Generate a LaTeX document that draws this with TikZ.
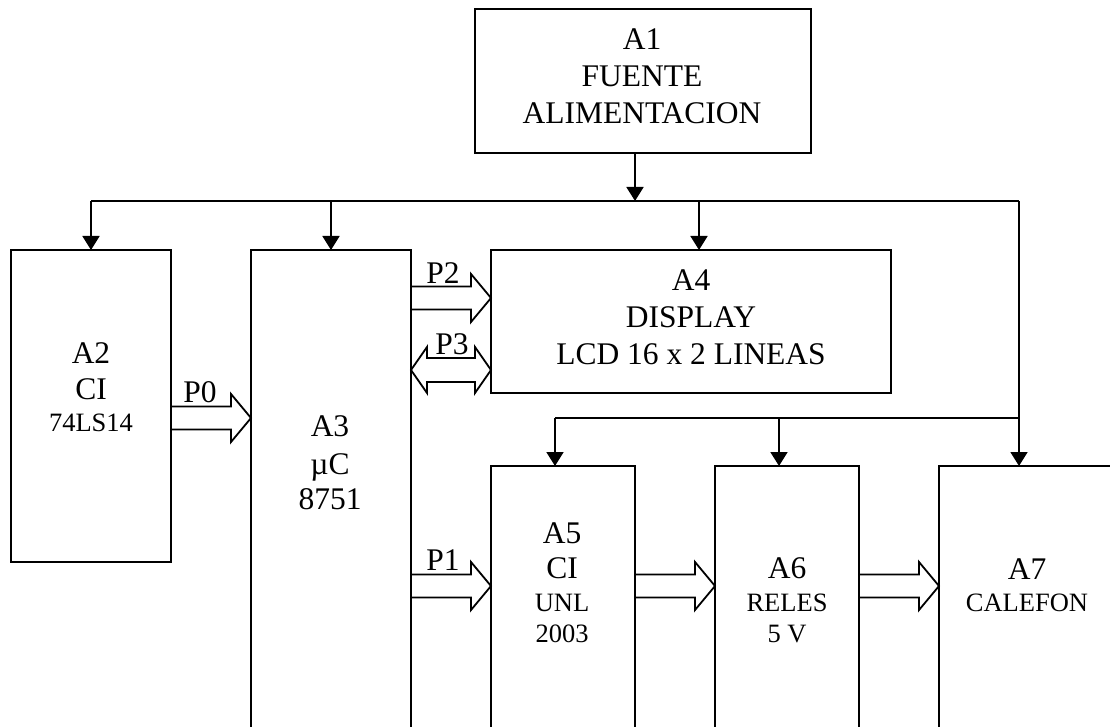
\documentclass[tikz,border=0pt]{standalone}
\usepackage{fontspec}
\setmainfont{Liberation Serif}
\usetikzlibrary{arrows.meta,calc}
\newcommand\fatR[2]{%
  \draw[fat] let \p1=(#1), \p2=(#2) in
    (\x1,\y1+11.5pt) -- (\x2-20pt,\y1+11.5pt) -- (\x2-20pt,\y1+24pt) -- (\x2,\y1)
    -- (\x2-20pt,\y1-24pt) -- (\x2-20pt,\y1-11.5pt) -- (\x1,\y1-11.5pt);}
\newcommand\fatLR[2]{%
  \draw[fat] let \p1=(#1), \p2=(#2) in
    (\x1,\y1) -- (\x1+16pt,\y1-23pt) -- (\x1+16pt,\y1-12pt) -- (\x2-16pt,\y1-12pt)
    -- (\x2-16pt,\y1-23pt) -- (\x2,\y1) -- (\x2-16pt,\y1+23pt) -- (\x2-16pt,\y1+12pt)
    -- (\x1+16pt,\y1+12pt) -- (\x1+16pt,\y1+23pt) -- cycle;}
\begin{document}
\begin{tikzpicture}[x=1pt,y=-1pt,
  box/.style={draw, line width=1.8pt, rectangle, inner sep=0pt, outer sep=0pt, anchor=north west},
  bus/.style={line width=1.8pt},
  arr/.style={bus, -{Triangle[length=14pt,width=17pt]}},
  fat/.style={line width=1.8pt, line join=miter},
  lbl/.style={anchor=base, inner sep=0pt, font=\fontsize{31.5}{37}\selectfont},
  sml/.style={anchor=base, inner sep=0pt, font=\fontsize{26.5}{31}\selectfont}]
\useasboundingbox (0,0) rectangle (1110,727);
% boxes
\node[box, minimum width=336pt, minimum height=144pt] (a1) at (475,9) {};
\node[box, minimum width=160pt, minimum height=312pt] (a2) at (11,250) {};
\node[box, minimum width=160pt, minimum height=520pt] (a3) at (251,250) {};
\node[box, minimum width=400pt, minimum height=143pt] (a4) at (491,250) {};
\node[box, minimum width=144pt, minimum height=300pt] (a5) at (491,466) {};
\node[box, minimum width=144pt, minimum height=300pt] (a6) at (715,466) {};
\node[box, minimum width=200pt, minimum height=300pt] (a7) at (939,466) {};
% power buses
\coordinate (bl) at (91,201);
\coordinate (br) at (1019,201);
\coordinate (j1) at (635,201);
\coordinate (j4) at (699,201);
\coordinate (cl) at (555,418);
\coordinate (c6) at (779,418);
\draw[bus] (bl) -- (br);
\draw[arr] (a1.south -| j1) -- (j1);
\draw[arr] (bl) -- (a2.north);
\draw[arr] (a3.north |- bl) -- (a3.north);
\draw[arr] (j4) -- (j4 |- a4.north);
\draw[arr] (br) -- (br |- a7.north);
\draw[bus] (cl) -- (br |- cl);
\draw[arr] (cl) -- (cl |- a5.north);
\draw[arr] (c6) -- (c6 |- a6.north);
% fat arrows
\fatR{a2.east |- 0,418}{a3.west |- 0,418}
\fatR{a3.east |- 0,298}{a4.west |- 0,298}
\fatLR{a3.east |- 0,370}{a4.west |- 0,370}
\fatR{a3.east |- 0,586}{a5.west |- 0,586}
\fatR{a5.east |- 0,586}{a6.west |- 0,586}
\fatR{a6.east |- 0,586}{a7.west |- 0,586}
% port labels
\node[lbl] (p0) at (200,402) {P0};
\node[lbl] (p2) at (443,283) {P2};
\node[lbl] (p3) at (452,354) {P3};
\node[lbl] (p1) at (443,570) {P1};
% texts
\node[lbl] (t1a) at (642,50) {A1};
\node[lbl] (t1b) at (642,87) {FUENTE};
\node[lbl] (t1c) at (642,124) {ALIMENTACION};
\node[lbl] (t2a) at (91,363) {A2};
\node[lbl] (t2b) at (91,399) {CI};
\node[sml] (t2c) at (91,431) {74LS14};
\node[lbl] (t3a) at (330,436) {A3};
\node[lbl] (t3b) at (330,474) {µC};
\node[lbl] (t3c) at (330,509) {8751};
\node[lbl] (t4a) at (691,290) {A4};
\node[lbl] (t4b) at (691,327) {DISPLAY};
\node[lbl] (t4c) at (691,364) {LCD 16 x 2 LINEAS};
\node[lbl] (t5a) at (562,543) {A5};
\node[lbl] (t5b) at (562,578) {CI};
\node[sml] (t5c) at (562,611) {UNL};
\node[sml] (t5d) at (562,642) {2003};
\node[lbl] (t6a) at (787,578) {A6};
\node[sml] (t6b) at (787,611) {RELES};
\node[sml] (t6c) at (787,642) {5 V};
\node[lbl] (t7a) at (1027,579) {A7};
\node[sml] (t7b) at (1027,611) {CALEFON};
\end{tikzpicture}
\end{document}
